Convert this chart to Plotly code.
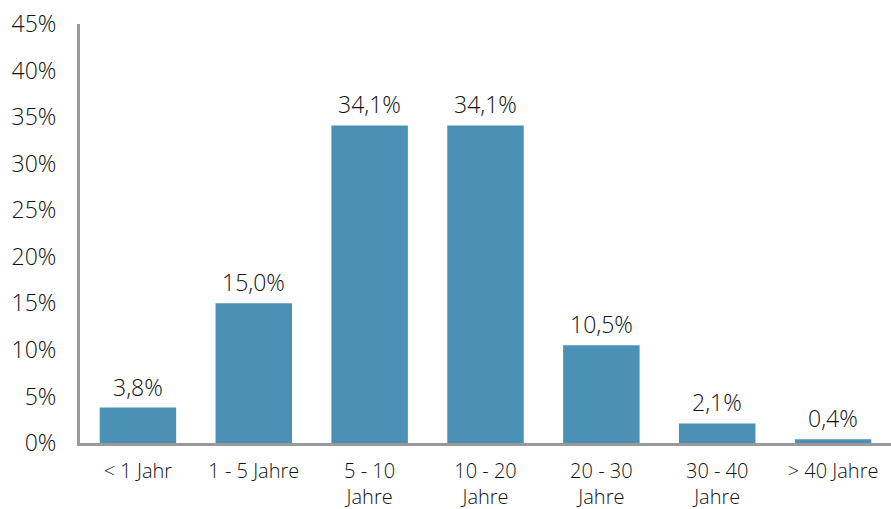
import plotly.graph_objects as go

# Altersstruktur: Anteile je Altersklasse (in %)
categories = ["< 1 Jahr", "1 - 5 Jahre", "5 - 10<br>Jahre", "10 - 20<br>Jahre",
              "20 - 30<br>Jahre", "30 - 40<br>Jahre", "> 40 Jahre"]
shares = [3.8, 15.0, 34.1, 34.1, 10.5, 2.1, 0.4]
y_ticks = [0, 5, 10, 15, 20, 25, 30, 35, 40, 45]
y_tick_labels = [f"{v}%" for v in y_ticks]

bar_color = "#4B91B5"
axis_color = "#999999"
text_color = "#111111"
font_family = "Open Sans, Noto Sans, sans-serif"
font_weight = 350

fig = go.Figure(
    go.Bar(
        x=categories,
        y=shares,
        marker=dict(color=bar_color, line=dict(width=0)),
        width=0.66,
        hoverinfo="skip",
    )
)

# Wertebeschriftungen über den Balken (deutsches Dezimalkomma)
for cat, val in zip(categories, shares):
    fig.add_annotation(
        x=cat, y=val, yanchor="bottom", yshift=3,
        text=f"{val:.1f}%".replace(".", ","),
        showarrow=False,
        font=dict(size=23, color=text_color, family=font_family, weight=font_weight),
    )

fig.update_layout(
    width=891, height=509,
    margin=dict(l=80, r=0, t=24, b=66),
    paper_bgcolor="white", plot_bgcolor="white",
    showlegend=False,
    font=dict(family=font_family, size=21, color=text_color, weight=font_weight),
    bargap=0.34,
)

fig.update_xaxes(
    range=[-0.5, 6.5],
    showline=True, linecolor=axis_color, linewidth=3,
    showgrid=False, ticks="", ticklabelstandoff=8,
    tickfont=dict(size=20, color=text_color, family=font_family, weight=font_weight),
    automargin=False,
    fixedrange=True,
)
fig.update_yaxes(
    range=[0, 45],
    tickvals=y_ticks, ticktext=y_tick_labels,
    showline=True, linecolor=axis_color, linewidth=3,
    showgrid=False, zeroline=False, ticks="", ticklabelstandoff=16,
    tickfont=dict(size=23, color=text_color, family=font_family, weight=font_weight),
    automargin=False,
    fixedrange=True,
)

fig.write_html("out.html")
